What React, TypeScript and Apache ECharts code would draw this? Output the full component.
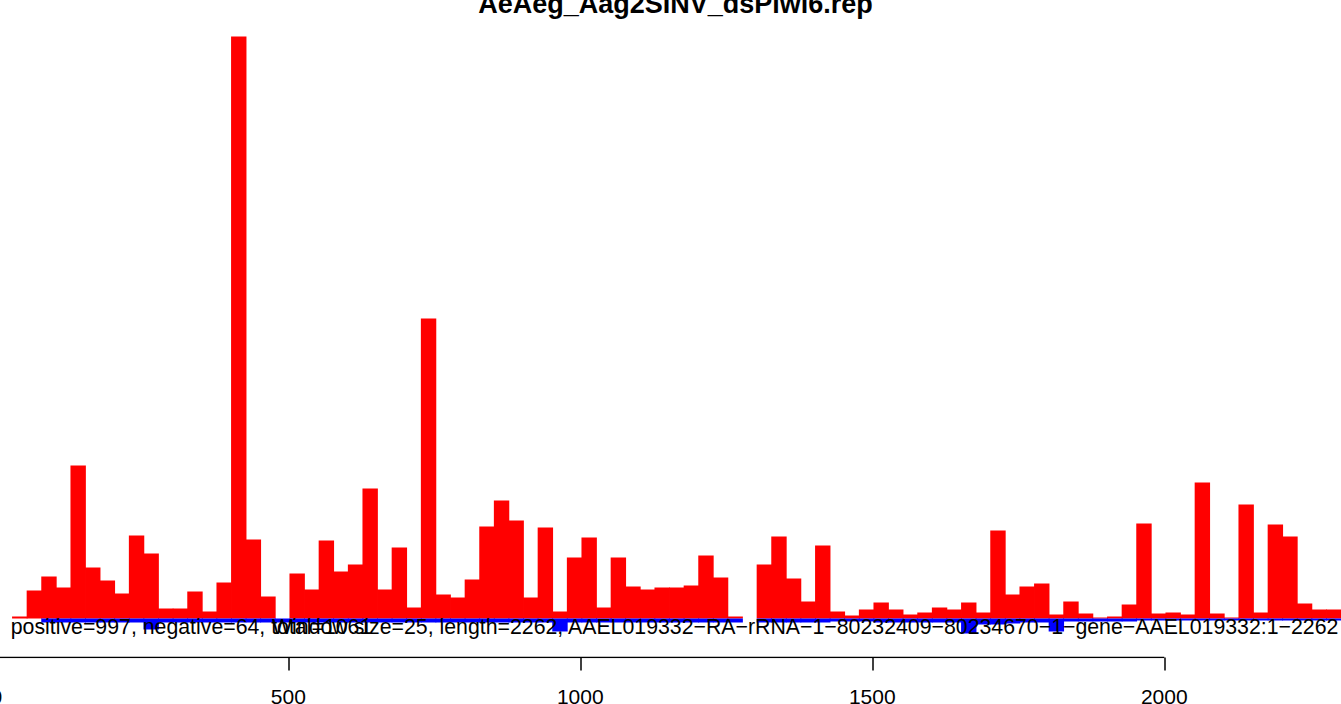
import React, { useEffect, useRef } from "react";
import * as echarts from "echarts";

const TITLE = "AeAeg_Aag2SINV_dsPiwi6.rep";
const INFO_TEXT = "positive=997, negative=64, total=1061";
const WINDOW_TEXT =
  "Window size=25, length=2262, AAEL019332\u2212RA\u2212rRNA\u22121\u221280232409\u221280234670\u22121\u2212gene\u2212AAEL019332:1\u22122262";

const WINDOW_SIZE = 25;
const FIRST_WINDOW_START = 27;
const X_TICKS = [0, 500, 1000, 1500, 2000];

// per-window counts (arbitrary units)
const positiveCounts = [
  2, 28, 42, 31, 153, 51, 38, 25, 83, 65,
  10, 10, 27, 7, 36, 582, 79, 22, 0, 45,
  29, 78, 47, 54, 130, 29, 71, 11, 300, 24,
  21, 39, 92, 118, 98, 21, 91, 7, 61, 81,
  11, 61, 32, 29, 31, 31, 33, 63, 41, 2,
  0, 54, 82, 40, 17, 73, 7, 3, 9, 16,
  9, 4, 6, 11, 9, 16, 6, 88, 24, 32,
  35, 4, 17, 5, 1, 2, 14, 95, 5, 6,
  4, 136, 5, 1, 114, 6, 94, 82, 15, 9, 9,
];
const negativeCounts = [
  0, 0, 4, 4, 4, 4, 4, 4, 4, 11,
  4, 4, 4, 4, 4, 4, 4, 4, 4, 4,
  4, 4, 4, 4, 4, 4, 4, 4, 4, 4,
  4, 4, 4, 4, 4, 4, 4, 13, 4, 4,
  4, 4, 4, 4, 4, 4, 4, 4, 4, 4,
  0, 4, 4, 4, 4, 4, 3, 3, 3, 4,
  4, 4, 4, 4, 4, 15, 6, 6, 5, 4,
  4, 13, 3, 3, 3, 3, 3, 2, 2, 2,
  2, 2, 2, 2, 2, 2, 2, 2, 2, 2, 2,
];

const FONT = '"Liberation Sans", Arial, Helvetica, sans-serif';

function windows(values: number[], sign: number) {
  return values.map((v, i) => {
    const s = FIRST_WINDOW_START + i * WINDOW_SIZE;
    return [s, s + WINDOW_SIZE, sign * v];
  });
}

function makeRender(color: string) {
  return (params: any, api: any) => {
    const s = api.value(0);
    const e = api.value(1);
    const v = api.value(2);
    if (!v) return null;
    const p0 = api.coord([s, v]);
    const p1 = api.coord([e, 0]);
    return {
      type: "rect",
      shape: {
        x: p0[0],
        y: Math.min(p0[1], p1[1]),
        width: p1[0] - p0[0] + 0.8,
        height: Math.abs(p1[1] - p0[1]),
      },
      style: { fill: color },
    };
  };
}

export default function App() {
  const ref = useRef<HTMLDivElement>(null);
  useEffect(() => {
    if (!ref.current) return;
    const chart = echarts.init(ref.current, undefined, { renderer: "svg" });
    const gridLeft = -3.7;
    const xMax = 2310;
    const gridWidth = xMax * 0.584;
    chart.setOption({
      animation: false,
      backgroundColor: "#ffffff",
      grid: [
        { left: gridLeft, top: 18.5, width: gridWidth, height: 620, outerBoundsMode: "none", containLabel: false },
        { left: gridLeft, top: 656.5, width: gridWidth, height: 1, outerBoundsMode: "none", containLabel: false },
      ],
      xAxis: [
        { gridIndex: 0, type: "value", min: 0, max: xMax, show: false },
        {
          gridIndex: 1,
          type: "value",
          min: 0,
          max: xMax,
          interval: 500,
          axisLine: { show: false },
          splitLine: { show: false },
          axisTick: { show: true, length: 13, lineStyle: { color: "#000", width: 1.5 } },
          axisLabel: {
            show: true,
            color: "#000",
            fontSize: 21,
            fontFamily: FONT,
            margin: 39,
            verticalAlign: "middle",
            hideOverlap: false,
            formatter: (v: number) => (X_TICKS.indexOf(v) >= 0 ? String(v) : ""),
          },
        },
      ],
      yAxis: [
        { gridIndex: 0, type: "value", min: -20, max: 600, show: false },
        { gridIndex: 1, type: "value", min: 0, max: 1, show: false },
      ],
      series: [
        {
          type: "custom",
          xAxisIndex: 0,
          yAxisIndex: 0,
          renderItem: makeRender("#ff0000"),
          encode: { x: [0, 1], y: 2 },
          data: windows(positiveCounts, 1),
          clip: false,
        },
        {
          type: "custom",
          xAxisIndex: 0,
          yAxisIndex: 0,
          renderItem: makeRender("#0000ff"),
          encode: { x: [0, 1], y: 2 },
          data: windows(negativeCounts, -1),
          clip: false,
        },
        {
          type: "line",
          xAxisIndex: 1,
          yAxisIndex: 1,
          data: [
            [X_TICKS[0], 0],
            [X_TICKS[X_TICKS.length - 1], 0],
          ],
          symbol: "none",
          lineStyle: { color: "#000", width: 1.5 },
          silent: true,
        },
      ],
      graphic: [
        {
          type: "text",
          x: 675.5,
          y: 3.6,
          z: 100,
          style: {
            text: TITLE,
            fontSize: 27,
            fontWeight: "bold",
            fontFamily: FONT,
            fill: "#000",
            align: "center",
            verticalAlign: "middle",
          },
        },
        {
          type: "text",
          x: 10.7,
          y: 627,
          z: 100,
          style: {
            text: INFO_TEXT,
            fontSize: 21.3,
            fontFamily: FONT,
            fill: "#000",
            align: "left",
            verticalAlign: "middle",
          },
        },
        {
          type: "text",
          x: 272,
          y: 627,
          z: 100,
          style: {
            text: WINDOW_TEXT,
            fontSize: 21.3,
            fontFamily: FONT,
            fill: "#000",
            align: "left",
            verticalAlign: "middle",
          },
        },
      ],
    });
    return () => chart.dispose();
  }, []);
  return (
    <div
      ref={ref}
      style={{ position: "fixed", left: 0, top: 0, width: 1341, height: 704, background: "#fff" }}
    />
  );
}
